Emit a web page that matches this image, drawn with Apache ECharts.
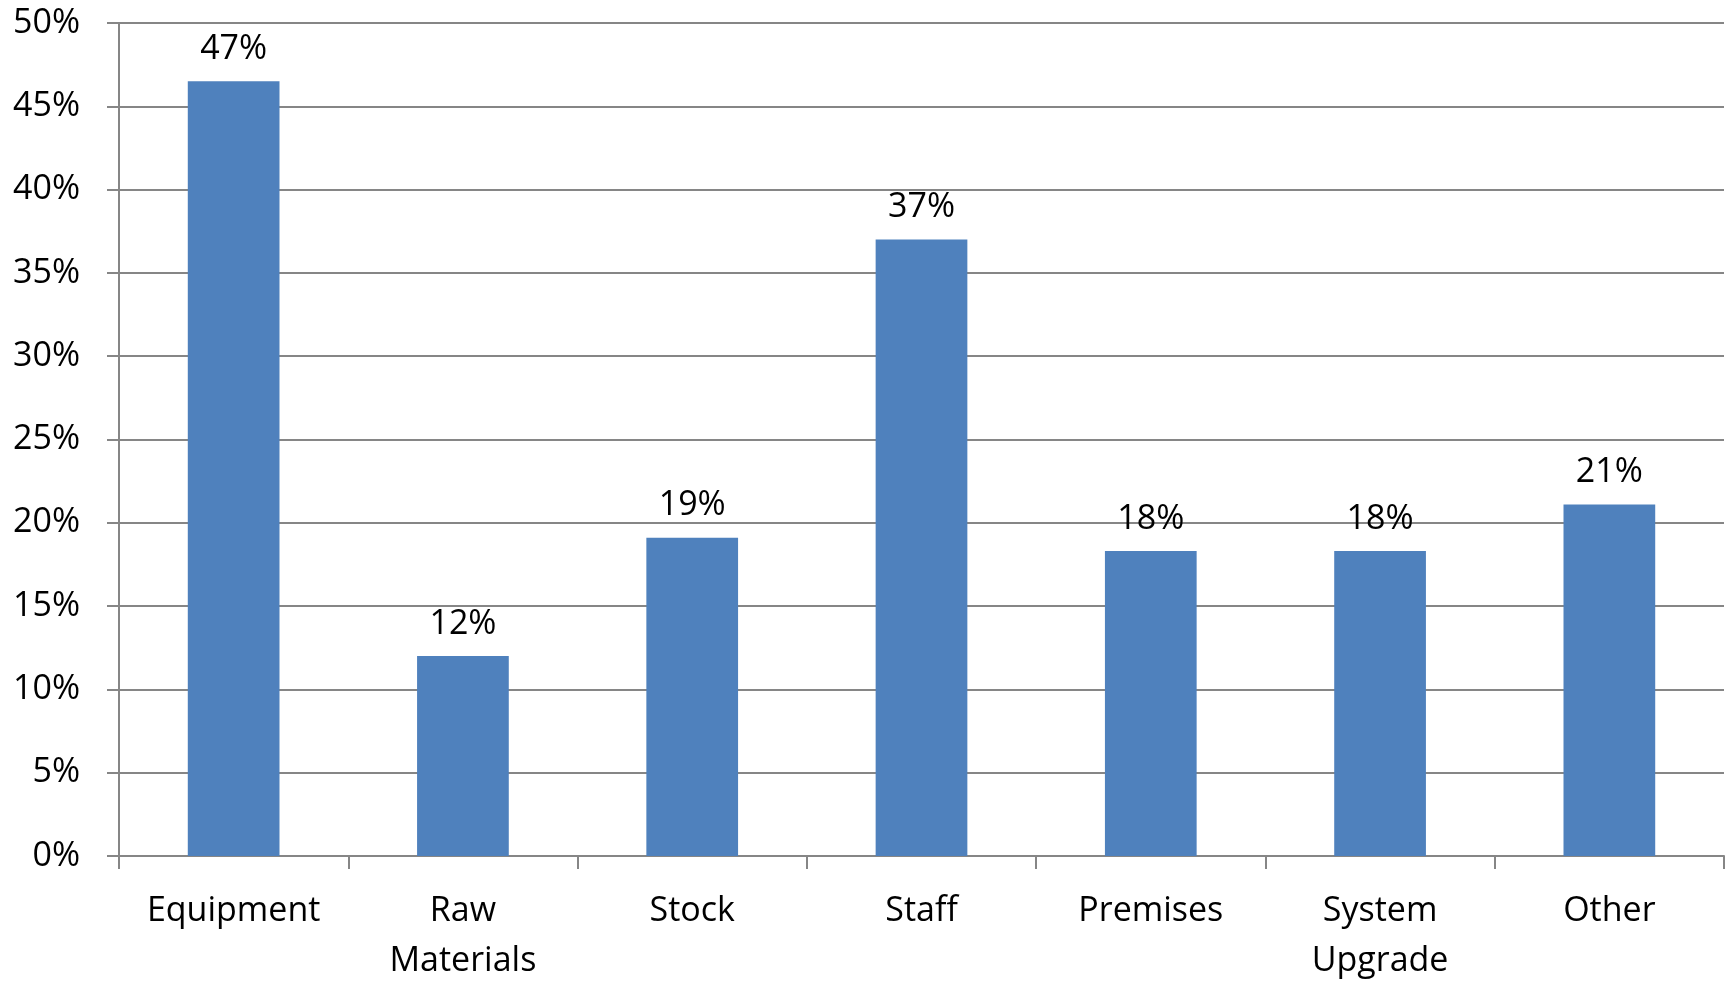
<!DOCTYPE html>
<html>
<head>
<meta charset="utf-8">
<script src="https://cdn.jsdelivr.net/npm/echarts@6/dist/echarts.min.js"></script>
<style>
  html, body { margin: 0; padding: 0; background: #ffffff; }
  #chart { width: 1727px; height: 986px; }
</style>
</head>
<body>
<div id="chart"></div>
<script>
// Share of spending by category (percent)
const categories = ['Equipment', 'Raw\nMaterials', 'Stock', 'Staff', 'Premises', 'System\nUpgrade', 'Other'];
const shares = [46.5, 12.0, 19.1, 37.0, 18.3, 18.3, 21.1];
const yMin = 0;
const yMax = 50;
const yStep = 5;

const FONT = '"Open Sans", "Liberation Sans", sans-serif';
const GRID_GRAY = '#868686';
const FONT_SIZE = 34;

const chart = echarts.init(document.getElementById('chart'), null, { renderer: 'canvas' });
chart.setOption({
  animation: false,
  backgroundColor: '#ffffff',
  grid: { left: 119, right: 3, top: 23, bottom: 122, containLabel: false },
  xAxis: {
    type: 'category',
    data: categories,
    boundaryGap: true,
    axisLine: { show: true, lineStyle: { color: GRID_GRAY, width: 2 } },
    axisTick: { show: true, length: 13, inside: false, lineStyle: { color: GRID_GRAY, width: 2 } },
    axisLabel: {
      interval: 0,
      margin: 30,
      color: '#000000',
      fontFamily: FONT,
      fontSize: FONT_SIZE,
      lineHeight: 50
    }
  },
  yAxis: {
    type: 'value',
    min: yMin,
    max: yMax,
    interval: yStep,
    axisLine: { show: true, lineStyle: { color: GRID_GRAY, width: 2 } },
    axisTick: { show: true, length: 12, lineStyle: { color: GRID_GRAY, width: 2 } },
    splitLine: { show: true, lineStyle: { color: GRID_GRAY, width: 2 } },
    axisLabel: {
      margin: 39,
      color: '#000000',
      fontFamily: FONT,
      fontSize: FONT_SIZE,
      formatter: '{value}%'
    }
  },
  series: [{
    type: 'bar',
    data: shares,
    barWidth: '40%',
    itemStyle: { color: '#4F81BD' },
    label: {
      show: true,
      position: 'top',
      distance: 15,
      color: '#000000',
      fontFamily: FONT,
      fontSize: FONT_SIZE,
      formatter: p => Math.round(p.value) + '%'
    }
  }]
});
</script>
</body>
</html>
